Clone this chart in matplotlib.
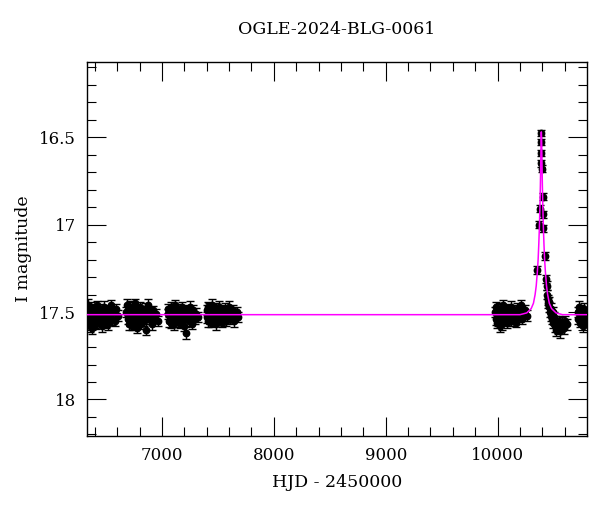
import numpy as np
import matplotlib
matplotlib.use("Agg")
import matplotlib.pyplot as plt
from matplotlib.ticker import MultipleLocator, FormatStrFormatter

plt.rcParams['font.family'] = ['DejaVu Serif']

# OGLE photometry (HJD - 2450000, I mag, error)
t_2013 = [6333, 6337, 6342, 6346, 6351, 6355, 6360, 6364, 6369, 6373, 6378, 6383, 6388, 6393, 6398, 6404, 6410, 6416, 6422,
          6429, 6436, 6443, 6451, 6459, 6467, 6476, 6485, 6494, 6503, 6512, 6522, 6532, 6542, 6553, 6564, 6576, 6590, 6605]
m_2013 = [17.48, 17.53, 17.46, 17.55, 17.51, 17.58, 17.50, 17.47, 17.54, 17.52, 17.59, 17.49, 17.53, 17.48, 17.56, 17.51,
          17.57, 17.50, 17.46, 17.54, 17.52, 17.49, 17.55, 17.50, 17.58, 17.53, 17.47, 17.51, 17.56, 17.49, 17.57, 17.52,
          17.46, 17.54, 17.50, 17.55, 17.48, 17.52]
e_2013 = [0.03, 0.025, 0.035, 0.03, 0.028, 0.033, 0.027, 0.03, 0.032, 0.026, 0.035, 0.029, 0.031, 0.027, 0.034, 0.03,
          0.028, 0.033, 0.026, 0.031, 0.029, 0.035, 0.027, 0.03, 0.032, 0.028, 0.034, 0.026, 0.031, 0.029, 0.033, 0.027,
          0.03, 0.035, 0.028, 0.031, 0.026, 0.032]

t_2014 = [6682, 6687, 6692, 6697, 6702, 6707, 6712, 6717, 6722, 6728, 6734, 6740, 6746, 6752, 6759, 6766, 6773, 6780,
          6788, 6796, 6804, 6812, 6820, 6829, 6838, 6847, 6856, 6866, 6876, 6886, 6897, 6908, 6920, 6933, 6948, 6965]
m_2014 = [17.50, 17.46, 17.54, 17.49, 17.57, 17.52, 17.47, 17.55, 17.51, 17.58, 17.48, 17.53, 17.50, 17.56, 17.45, 17.52,
          17.59, 17.49, 17.54, 17.51, 17.47, 17.57, 17.53, 17.50, 17.55, 17.48, 17.60, 17.52, 17.46, 17.54, 17.50, 17.57,
          17.49, 17.53, 17.51, 17.55]
e_2014 = [0.028, 0.032, 0.026, 0.034, 0.03, 0.027, 0.033, 0.029, 0.031, 0.025, 0.035, 0.028, 0.03, 0.032, 0.027, 0.034,
          0.029, 0.031, 0.026, 0.033, 0.03, 0.028, 0.035, 0.027, 0.031, 0.029, 0.032, 0.026, 0.034, 0.03, 0.028, 0.033,
          0.027, 0.031, 0.029, 0.03]

t_2015 = [7052, 7057, 7062, 7067, 7072, 7077, 7082, 7088, 7094, 7100, 7106, 7112, 7118, 7125, 7132, 7139, 7146, 7153,
          7160, 7168, 7176, 7184, 7192, 7200, 7208, 7216, 7224, 7233, 7242, 7251, 7260, 7270, 7280, 7292, 7305, 7322]
m_2015 = [17.51, 17.48, 17.55, 17.50, 17.53, 17.47, 17.56, 17.52, 17.49, 17.54, 17.50, 17.57, 17.46, 17.53, 17.51, 17.55,
          17.48, 17.52, 17.56, 17.50, 17.47, 17.54, 17.51, 17.58, 17.49, 17.62, 17.53, 17.50, 17.55, 17.47, 17.52, 17.57,
          17.49, 17.54, 17.51, 17.53]
e_2015 = [0.03, 0.027, 0.033, 0.029, 0.031, 0.026, 0.034, 0.028, 0.032, 0.03, 0.027, 0.035, 0.029, 0.031, 0.028, 0.033,
          0.026, 0.03, 0.032, 0.029, 0.027, 0.034, 0.031, 0.028, 0.03, 0.036, 0.029, 0.032, 0.027, 0.033, 0.03, 0.028,
          0.031, 0.026, 0.034, 0.029]

t_2016 = [7402, 7406, 7411, 7415, 7420, 7424, 7429, 7434, 7439, 7444, 7449, 7455, 7461, 7467, 7473, 7479, 7486, 7493,
          7500, 7507, 7514, 7522, 7530, 7538, 7546, 7554, 7563, 7572, 7581, 7590, 7600, 7610, 7620, 7631, 7642, 7654,
          7667, 7682]
m_2016 = [17.49, 17.53, 17.47, 17.55, 17.51, 17.48, 17.54, 17.50, 17.56, 17.52, 17.46, 17.53, 17.49, 17.55, 17.51, 17.57,
          17.48, 17.52, 17.50, 17.54, 17.47, 17.53, 17.51, 17.56, 17.49, 17.52, 17.48, 17.55, 17.50, 17.53, 17.47, 17.54,
          17.51, 17.49, 17.55, 17.52, 17.50, 17.53]
e_2016 = [0.028, 0.031, 0.026, 0.033, 0.029, 0.03, 0.027, 0.032, 0.028, 0.03, 0.034, 0.027, 0.031, 0.029, 0.026, 0.033,
          0.03, 0.028, 0.032, 0.027, 0.031, 0.029, 0.034, 0.026, 0.03, 0.028, 0.033, 0.027, 0.031, 0.029, 0.032, 0.026,
          0.03, 0.028, 0.033, 0.027, 0.031, 0.029]

t_2023 = [9977, 9982, 9987, 9992, 9997, 10002, 10007, 10012, 10017, 10022, 10028, 10034, 10040, 10046, 10052, 10058,
          10065, 10072, 10079, 10086, 10093, 10100, 10108, 10116, 10124, 10132, 10140, 10149, 10158, 10167, 10176, 10186,
          10196, 10206, 10217, 10229, 10242, 10262]
m_2023 = [17.50, 17.54, 17.47, 17.56, 17.52, 17.49, 17.55, 17.51, 17.58, 17.48, 17.53, 17.50, 17.57, 17.46, 17.54, 17.51,
          17.55, 17.49, 17.52, 17.56, 17.48, 17.53, 17.50, 17.55, 17.47, 17.52, 17.54, 17.49, 17.51, 17.56, 17.48, 17.53,
          17.50, 17.46, 17.54, 17.51, 17.49, 17.52]
e_2023 = [0.029, 0.032, 0.027, 0.031, 0.028, 0.034, 0.03, 0.026, 0.033, 0.029, 0.031, 0.027, 0.035, 0.03, 0.028, 0.032,
          0.026, 0.031, 0.029, 0.033, 0.027, 0.03, 0.032, 0.028, 0.034, 0.026, 0.031, 0.029, 0.033, 0.027, 0.03, 0.028,
          0.032, 0.029, 0.031, 0.027, 0.033, 0.03]

# the event itself
t_2024 = [10356, 10373, 10378, 10384, 10387, 10389, 10390, 10397, 10403, 10407, 10409, 10419, 10430, 10437, 10442, 10447,
          10452, 10457, 10462, 10467, 10473, 10479, 10485, 10491, 10497, 10504, 10511, 10518, 10526, 10534, 10542, 10551,
          10560, 10569, 10579, 10590, 10603, 10617]
m_2024 = [17.26, 17.00, 16.91, 16.65, 16.59, 16.53, 16.475, 16.68, 16.84, 16.94, 17.02, 17.18, 17.31, 17.35, 17.40, 17.43,
          17.45, 17.47, 17.44, 17.50, 17.48, 17.52, 17.54, 17.50, 17.56, 17.53, 17.58, 17.55, 17.60, 17.57, 17.59, 17.55,
          17.61, 17.58, 17.56, 17.59, 17.55, 17.57]
e_2024 = [0.025, 0.02, 0.02, 0.018, 0.018, 0.017, 0.017, 0.018, 0.019, 0.02, 0.02, 0.022, 0.024, 0.025, 0.026, 0.027,
          0.028, 0.03, 0.027, 0.031, 0.029, 0.032, 0.03, 0.028, 0.033, 0.03, 0.034, 0.029, 0.035, 0.031, 0.033, 0.03,
          0.036, 0.032, 0.029, 0.034, 0.03, 0.032]

t_2025 = [10716, 10722, 10728, 10734, 10740, 10746, 10752, 10758, 10765, 10772, 10779, 10786, 10793]
m_2025 = [17.50, 17.54, 17.47, 17.56, 17.52, 17.49, 17.55, 17.51, 17.58, 17.48, 17.53, 17.50, 17.55]
e_2025 = [0.03, 0.028, 0.033, 0.027, 0.031, 0.029, 0.032, 0.028, 0.034, 0.03, 0.027, 0.031, 0.029]

# model curve, points
t_model = [6330, 10200, 10260, 10300, 10320, 10335, 10345, 10355, 10362, 10368, 10373, 10378, 10382, 10385, 10387,
           10389, 10390, 10391, 10393, 10395, 10397, 10400, 10404, 10409, 10414, 10420, 10427, 10437, 10447, 10462,
           10482, 10522, 10580, 10800]
m_model = [17.515, 17.515, 17.505, 17.48, 17.45, 17.40, 17.35, 17.27, 17.20, 17.11, 17.02, 16.90, 16.78, 16.67, 16.59,
           16.51, 16.47, 16.47, 16.51, 16.59, 16.67, 16.78, 16.90, 17.02, 17.11, 17.20, 17.27, 17.35, 17.40, 17.45,
           17.48, 17.505, 17.515, 17.515]

hjd = np.concatenate([t_2013, t_2014, t_2015, t_2016, t_2023, t_2024, t_2025])
mag = np.concatenate([m_2013, m_2014, m_2015, m_2016, m_2023, m_2024, m_2025])
err = np.concatenate([e_2013, e_2014, e_2015, e_2016, e_2023, e_2024, e_2025])

fig, ax = plt.subplots(figsize=(6, 5.12), dpi=100)
fig.subplots_adjust(left=0.145, right=0.978, top=0.879, bottom=0.148)

ax.errorbar(hjd, mag, yerr=err, fmt='o', color='black', markersize=4.6,
            elinewidth=1.0, capsize=2.6, capthick=1.0, zorder=2)
ax.plot(t_model, m_model, color='#ff00ff', linewidth=1.1, zorder=3)

ax.set_xlim(6330, 10797)
ax.set_ylim(18.21, 16.07)

ax.xaxis.set_major_locator(MultipleLocator(1000))
ax.xaxis.set_minor_locator(MultipleLocator(200))
ax.yaxis.set_major_locator(MultipleLocator(0.5))
ax.yaxis.set_minor_locator(MultipleLocator(0.1))
ax.yaxis.set_major_formatter(FormatStrFormatter('%g'))

ax.tick_params(which='both', direction='in', top=True, right=True, width=0.8, labelsize=12)
ax.tick_params(which='major', length=13.5, pad=8)
ax.tick_params(which='minor', length=6.8)
for s in ax.spines.values():
    s.set_linewidth(1.0)

ax.set_title('OGLE-2024-BLG-0061', fontsize=12.5, pad=20)
ax.set_xlabel('HJD - 2450000', fontsize=12.5, labelpad=7)
ax.set_ylabel('I magnitude', fontsize=12.5, labelpad=5)

fig.savefig('out.png', dpi=100)
